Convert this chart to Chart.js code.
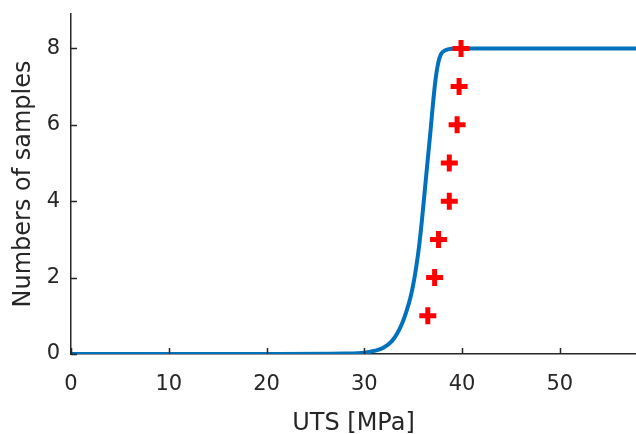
<!DOCTYPE html>
<html>
<head>
<meta charset="utf-8">
<script src="https://cdn.jsdelivr.net/npm/chart.js@4/dist/chart.umd.min.js"></script>
<style>
html,body{margin:0;padding:0;background:#fff;}
#wrap{width:636px;height:434px;position:relative;}
</style>
</head>
<body>
<div id="wrap"><canvas id="c" width="636" height="434"></canvas></div>
<script>
// Fitted curve
const curveX = [0, 10, 20, 28, 30, 31, 32, 32.8, 33.4, 33.9, 34.3, 34.7, 35.0, 35.3, 35.6, 35.9, 36.2, 36.5, 36.8, 37.05, 37.3, 37.55, 37.85, 38.3, 38.9, 40, 50, 58];
const curveY = [0, 0, 0, 0.01, 0.03, 0.08, 0.17, 0.33, 0.55, 0.82, 1.1, 1.45, 1.8, 2.25, 2.8, 3.5, 4.3, 5.1, 5.9, 6.6, 7.2, 7.6, 7.85, 7.95, 7.99, 8, 8, 8];
// Sample points (red plus markers)
const sampleX = [36.5, 37.2, 37.6, 38.7, 38.7, 39.5, 39.7, 39.9];
const sampleY = [1, 2, 3, 4, 5, 6, 7, 8];
// Axis ticks
const xTicks = [0, 10, 20, 30, 40, 50];
const yTicks = [0, 2, 4, 6, 8];

const axisColor = '#262626';
const fontFam = '"DejaVu Sans", sans-serif';

const inwardTicks = {
  id: 'inwardTicks',
  afterDraw(chart) {
    const ctx = chart.ctx;
    const xs = chart.scales.x, ys = chart.scales.y;
    const ca = chart.chartArea;
    ctx.save();
    ctx.strokeStyle = axisColor;
    ctx.lineWidth = 1.5;
    ctx.beginPath();
    xTicks.forEach(v => {
      const p = Math.round(xs.getPixelForValue(v)) + 0.5;
      ctx.moveTo(p, ca.bottom);
      ctx.lineTo(p, ca.bottom - 6);
    });
    yTicks.forEach(v => {
      const p = Math.round(ys.getPixelForValue(v)) + 0.5;
      ctx.moveTo(ca.left, p);
      ctx.lineTo(ca.left + 6, p);
    });
    ctx.stroke();
    ctx.restore();
  }
};

new Chart(document.getElementById('c'), {
  type: 'scatter',
  data: {
    datasets: [
      {
        label: 'Samples',
        data: sampleX.map((x, i) => ({x: x, y: sampleY[i]})),
        pointStyle: 'cross',
        pointRadius: 8.5,
        pointHoverRadius: 8.5,
        borderColor: '#ff0000',
        backgroundColor: '#ff0000',
        pointBorderWidth: 5,
        showLine: false,
        clip: false
      },
      {
        label: 'Fit',
        data: curveX.map((x, i) => ({x: x, y: curveY[i]})),
        showLine: true,
        borderColor: '#0072BD',
        borderWidth: 4,
        pointRadius: 0,
        pointHoverRadius: 0,
        cubicInterpolationMode: 'monotone',
        fill: false
      }
    ]
  },
  options: {
    responsive: false,
    animation: false,
    events: [],
    layout: { autoPadding: false, padding: { top: 14, right: 0, left: 0, bottom: 0 } },
    plugins: { legend: { display: false }, tooltip: { enabled: false } },
    scales: {
      x: {
        type: 'linear',
        min: 0,
        max: 57.8,
        afterFit(s) { s.height = 80; s.paddingLeft = 0; s.paddingRight = 0; },
        border: { display: true, color: axisColor, width: 1.5 },
        grid: { drawOnChartArea: false, drawTicks: false, tickLength: 0 },
        ticks: {
          stepSize: 10,
          includeBounds: false,
          color: axisColor,
          padding: 18,
          font: { family: fontFam, size: 21 },
          maxRotation: 0
        },
        title: {
          display: true,
          text: 'UTS [MPa]',
          color: axisColor,
          font: { family: fontFam, size: 24 },
          padding: { top: 0, bottom: -4 }
        }
      },
      y: {
        type: 'linear',
        min: 0,
        max: 8.9,
        afterFit(s) { s.width = 71; s.paddingTop = 0; s.paddingBottom = 0; },
        border: { display: true, color: axisColor, width: 1.5 },
        grid: { drawOnChartArea: false, drawTicks: false, tickLength: 0 },
        ticks: {
          stepSize: 2,
          includeBounds: false,
          color: axisColor,
          padding: 11,
          font: { family: fontFam, size: 21 }
        },
        title: {
          display: true,
          text: 'Numbers of samples',
          color: axisColor,
          font: { family: fontFam, size: 24 },
          padding: { top: 9, bottom: 0 }
        }
      }
    }
  },
  plugins: [inwardTicks]
});
</script>
</body>
</html>
